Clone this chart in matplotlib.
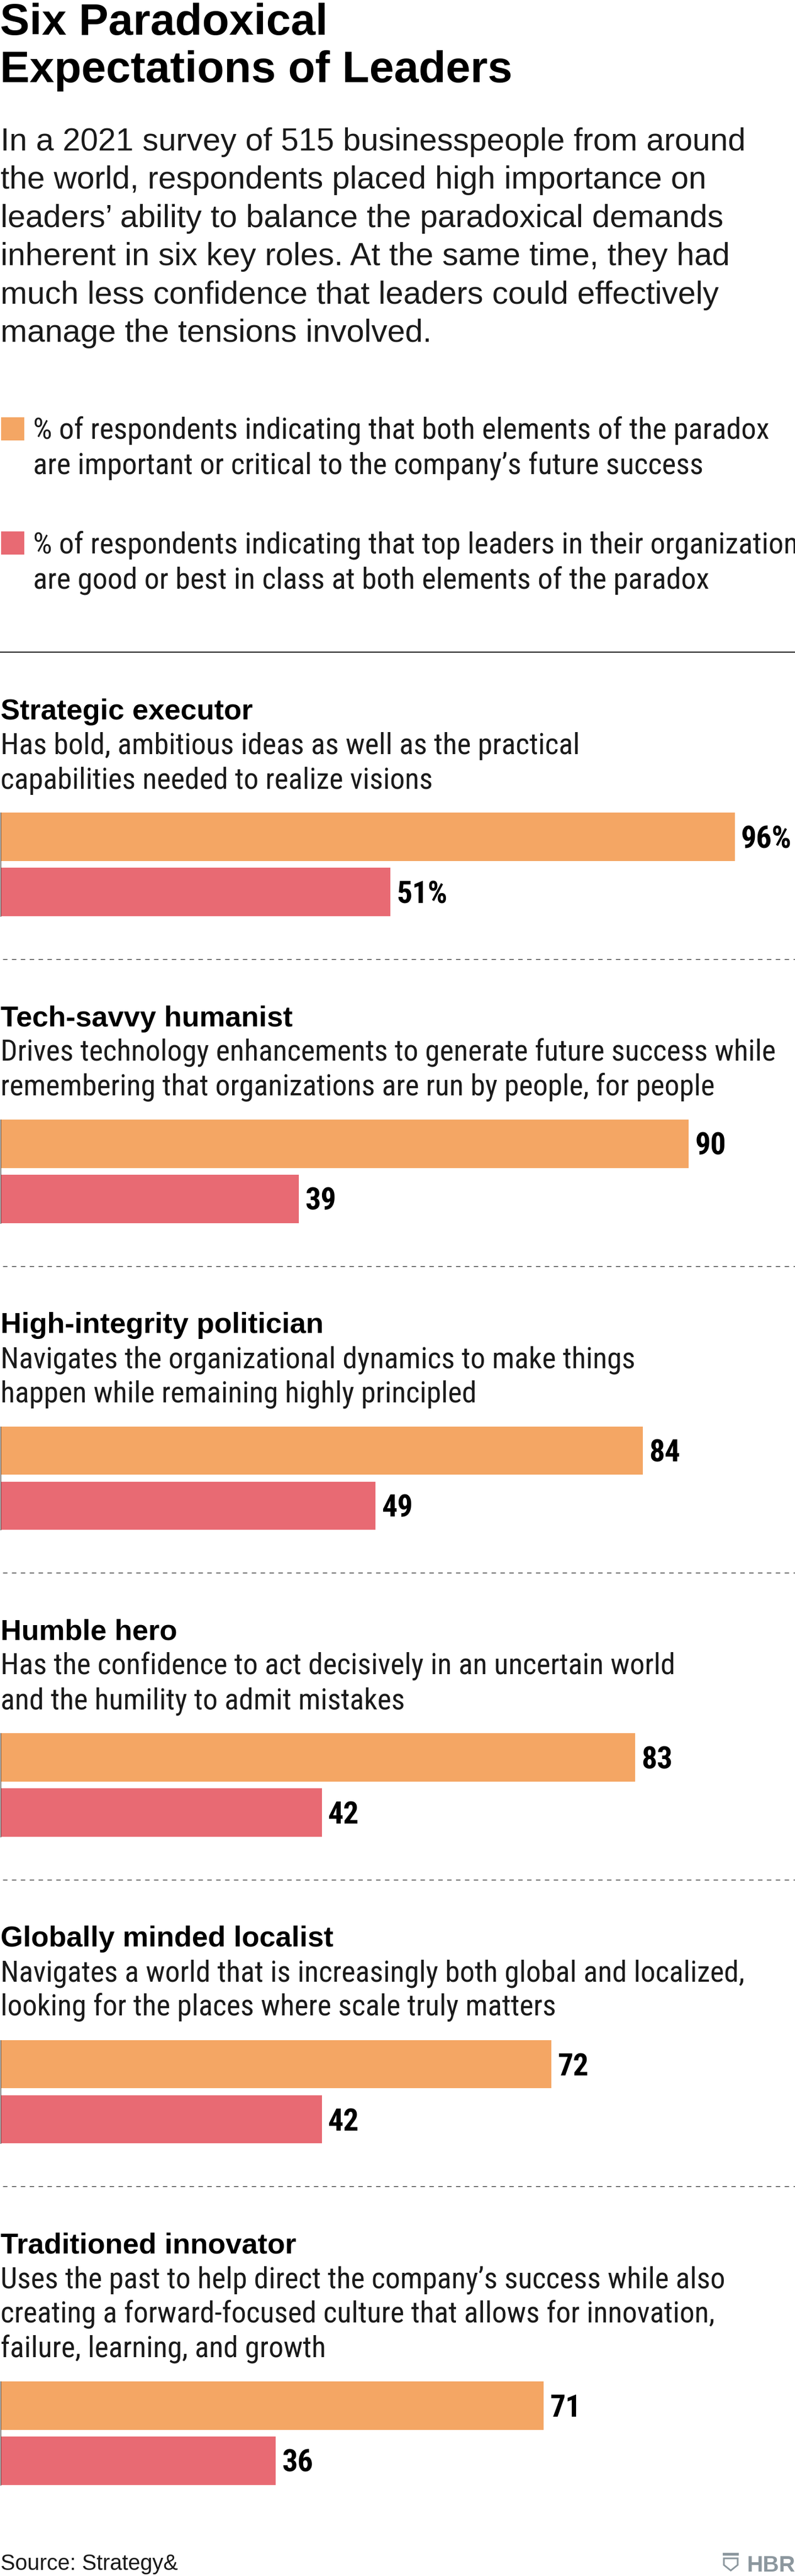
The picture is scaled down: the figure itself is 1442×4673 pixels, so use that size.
import matplotlib
matplotlib.use("Agg")
import matplotlib.pyplot as plt
from matplotlib import font_manager
from matplotlib.patches import Rectangle, Polygon

# ---------------- data ----------------
title_lines = ["Six Paradoxical", "Expectations of Leaders"]
intro_lines = [
    "In a 2021 survey of 515 businesspeople from around",
    "the world, respondents placed high importance on",
    "leaders\u2019 ability to balance the paradoxical demands",
    "inherent in six key roles. At the same time, they had",
    "much less confidence that leaders could effectively",
    "manage the tensions involved.",
]
legend_labels = [
    ["% of respondents indicating that both elements of the paradox",
     "are important or critical to the company\u2019s future success"],
    ["% of respondents indicating that top leaders in their organization",
     "are good or best in class at both elements of the paradox"],
]
roles = ["Strategic executor", "Tech-savvy humanist", "High-integrity politician",
         "Humble hero", "Globally minded localist", "Traditioned innovator"]
descriptions = [
    ["Has bold, ambitious ideas as well as the practical",
     "capabilities needed to realize visions"],
    ["Drives technology enhancements to generate future success while",
     "remembering that organizations are run by people, for people"],
    ["Navigates the organizational dynamics to make things",
     "happen while remaining highly principled"],
    ["Has the confidence to act decisively in an uncertain world",
     "and the humility to admit mistakes"],
    ["Navigates a world that is increasingly both global and localized,",
     "looking for the places where scale truly matters"],
    ["Uses the past to help direct the company\u2019s success while also",
     "creating a forward-focused culture that allows for innovation,",
     "failure, learning, and growth"],
]
important = [96, 90, 84, 83, 72, 71]
good_at = [51, 39, 49, 42, 42, 36]
source_text = "Source: Strategy&"

# ---------------- styles ----------------
W, H, DPI = 1442, 4673, 100
ORANGE = "#F4A664"
RED = "#E86A73"
TEXT = "#1a1a1a"
GRAY = "#8C979E"

avail = {f.name for f in font_manager.fontManager.ttflist}
REG = "Liberation Sans" if "Liberation Sans" in avail else "DejaVu Sans"
NARROW = next((f for f in ["Liberation Sans Narrow", "Roboto Condensed"] if f in avail), REG)

plt.rcParams["lines.scale_dashes"] = False
fig = plt.figure(figsize=(W / DPI, H / DPI), dpi=DPI)
renderer = fig.canvas.get_renderer()


def fit(text, target, **kw):
    t = fig.text(0, 0, text, fontsize=100, **kw)
    w = t.get_window_extent(renderer).width
    t.remove()
    return 100.0 * target / w


fs_title = fit(title_lines[1], 929, family=REG, weight="bold")
fs_intro = fit(intro_lines[0], 1350, family=REG)
fs_legend = fit(legend_labels[0][0], 1336, family=NARROW)
fs_role = fit(roles[0], 458, family=REG, weight="bold")
fs_desc = fit(descriptions[1][0], 1406, family=NARROW)
if NARROW != REG:
    VAL_FAMILY = NARROW
    fs_val = min(40.0 / 0.716 * 0.72, fit("96%", 95, family=NARROW, weight="bold"))
else:
    VAL_FAMILY = REG
    fs_val = fit("96%", 95, family=REG, weight="bold")
fs_src = fit(source_text, 322, family=REG)
fs_hbr = fit("HBR", 88, family=REG, weight="bold")

bg = fig.add_axes([0, 0, 1, 1])
bg.set_xlim(0, W)
bg.set_ylim(H, 0)
bg.axis("off")

# title
for i, line in enumerate(title_lines):
    bg.text(0, 62.5 + i * 87, line, fontsize=fs_title, family=REG, weight="bold",
            color="black", va="baseline", ha="left")

# intro
for i, line in enumerate(intro_lines):
    bg.text(1, 273 + i * 69.4, line, fontsize=fs_intro, family=REG,
            color=TEXT, va="baseline", ha="left")

# legend
leg_colors = [ORANGE, RED]
leg_tops = [757, 964]
for (lines, col, top) in zip(legend_labels, leg_colors, leg_tops):
    bg.add_patch(Rectangle((2, top), 42, 42, facecolor=col, edgecolor="none"))
    for j, line in enumerate(lines):
        bg.text(60, top + 40 + j * 64, line, fontsize=fs_legend, family=NARROW,
                color=TEXT, va="baseline", ha="left")

# solid separator
bg.plot([0, W], [1183, 1183], color="#222222", lw=1.5)

PITCH = 556.6
SCALE = 13.87  # px per percentage point
BAR_H = 0.875
cap_px = 0.716 * fs_val * DPI / 72.0

for k in range(len(roles)):
    off = k * PITCH
    bg.text(1, 1305 + off, roles[k], fontsize=fs_role, family=REG, weight="bold",
            color="black", va="baseline", ha="left")
    last = 1305 + off
    for j, line in enumerate(descriptions[k]):
        last = 1368 + off + j * 62.5
        bg.text(1, last, line, fontsize=fs_desc, family=NARROW, color=TEXT,
                va="baseline", ha="left")
    top = last + 44
    height_px = 100 * (1 + BAR_H)
    left_px = 1.0
    width_px = 100 * SCALE
    ax = fig.add_axes([left_px / W, 1 - (top + height_px) / H, width_px / W, height_px / H])
    ax.barh([0, 1], [important[k], good_at[k]], height=BAR_H,
            color=[ORANGE, RED], edgecolor="none")
    ax.set_xlim(0, 100)
    ax.set_ylim(1 + BAR_H / 2, -BAR_H / 2)
    for s in ["top", "right", "bottom"]:
        ax.spines[s].set_visible(False)
    ax.spines["left"].set_color("#333333")
    ax.spines["left"].set_linewidth(0.8)
    ax.set_xticks([])
    ax.set_yticks([])
    ax.patch.set_alpha(0)
    suffix = "%" if k == 0 else ""
    for yi, v in enumerate([important[k], good_at[k]]):
        ax.text(v + 11 / SCALE, yi + (cap_px / 2) / 100.0, f"{v}{suffix}",
                fontsize=fs_val, family=VAL_FAMILY, weight="bold", color="black",
                va="baseline", ha="left", clip_on=False)
    if k < len(roles) - 1:
        y = 1740 + off
        bg.plot([5, W], [y, y], color="#333333", lw=1.0,
                linestyle=(0, (5.8, 5.8)))

# source
bg.text(1, 4662, source_text, fontsize=fs_src, family=REG, color=TEXT,
        va="baseline", ha="left")

# HBR logo
bg.add_patch(Rectangle((1311, 4631), 29, 5, facecolor=GRAY, edgecolor="none"))
bg.add_patch(Polygon([(1313, 4641), (1338, 4641), (1338, 4653), (1325.5, 4663), (1313, 4653)],
                     closed=True, facecolor="none", edgecolor=GRAY, lw=2.2))
bg.text(1442, 4665, "HBR", fontsize=fs_hbr, family=REG, weight="bold", color=GRAY,
        va="baseline", ha="right")

fig.savefig("out.png", dpi=DPI, facecolor="white")
